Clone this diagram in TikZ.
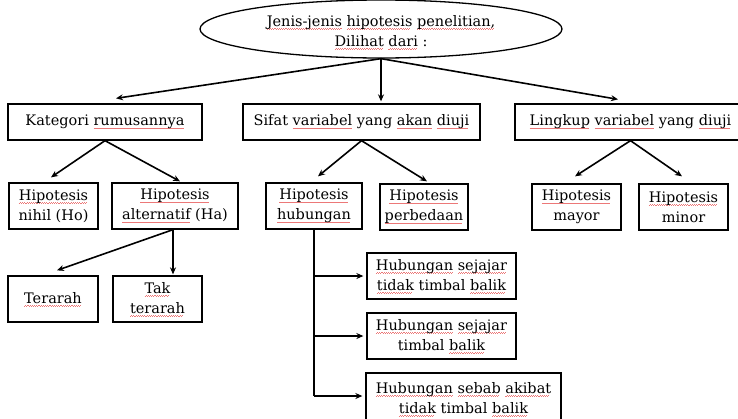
\documentclass[tikz,border=0pt]{standalone}
\usepackage{fontspec}
\setmainfont{DejaVu Serif}
\usetikzlibrary{arrows.meta,calc,shapes.geometric}

\definecolor{squig}{RGB}{236,120,120}
% light red wavy underline, as a spell checker marks a word
\newsavebox\sqbox
\newcommand\sq[1]{\sbox\sqbox{#1}\rlap{\color{squig}\leaders\hbox{\rule[-3.0pt]{1.1pt}{0.5pt}\rule[-2.4pt]{1.1pt}{0.5pt}}\hskip\wd\sqbox}\usebox\sqbox}

\tikzset{
  txt/.style={font=\fontsize{14.5}{20}\selectfont},
  box/.style={txt, draw, line width=1.3pt, inner sep=0pt, minimum height=46pt, align=center},
  topbox/.style={box, minimum height=36pt},
  ln/.style={line width=1.6pt},
  arr/.style={ln, -{Stealth[length=7pt,width=6pt]}},
}

\begin{document}
\begin{tikzpicture}[x=1pt,y=-1pt]
  \fill[white] (0,0) rectangle (738,418);
  \useasboundingbox (0,0) rectangle (738,418);

  % root
  \node[txt, ellipse, draw, line width=1.3pt, minimum width=362pt, minimum height=49pt,
        inner sep=0pt, align=center] (ell) at (381,29)
    {\rule{0pt}{18pt}\sq{Jenis-jenis} \sq{hipotesis} \sq{penelitian,}\\ \sq{Dilihat} \sq{dari} :};

  % first level
  \node[topbox, minimum width=194pt] (kat) at (105,122) {Kategori \sq{rumusannya}};
  \node[topbox, minimum width=237pt] (sif) at (361.5,122) {Sifat \sq{variabel} yang \sq{akan} \sq{diuji}};
  \node[topbox, minimum width=231pt] (lin) at (630.5,122) {\sq{Lingkup} \sq{variabel} yang \sq{diuji}};

  % second level
  \node[box, minimum width=89pt]  (nihil) at (53.5,206) {\sq{Hipotesis}\\ nihil (Ho)};
  \node[box, minimum width=126pt] (alt)   at (175,206)  {\sq{Hipotesis}\\ \sq{alternatif} (Ha)};
  \node[box, minimum width=96pt]  (hub)   at (314,206)  {\sq{Hipotesis}\\ \sq{hubungan}};
  \node[box, minimum width=88pt]  (per)   at (424,207)  {\sq{Hipotesis}\\ \sq{perbedaan}};
  \node[box, minimum width=89pt]  (may)   at (576.5,207) {\sq{Hipotesis}\\ mayor};
  \node[box, minimum width=89pt]  (min)   at (683.5,207) {\sq{Hipotesis}\\ minor};

  % third level
  \node[box, minimum width=90pt]  (ter) at (53,299)    {\sq{Terarah}};
  \node[box, minimum width=89pt]  (tak) at (157.5,299) {\sq{Tak}\\ \sq{terarah}};
  \node[box, minimum width=149pt] (hA)  at (441.5,276) {\sq{Hubungan} \sq{sejajar}\\ \sq{tidak} timbal \sq{balik}};
  \node[box, minimum width=149pt] (hB)  at (441.5,336) {\sq{Hubungan} \sq{sejajar}\\ timbal \sq{balik}};
  \node[box, minimum width=195pt, minimum height=52pt] (hC) at (463.5,399)
    {\sq{Hubungan} \sq{sebab} \sq{akibat}\\ \sq{tidak} timbal \sq{balik}};

  % root to first level
  \draw[arr] (ell.south) -- ($(kat.north)+(11,-5)$);
  \draw[arr] (ell.south) -- ($(ell.south |- sif.north)+(0,-2)$);
  \draw[arr] (ell.south) -- ($(lin.north)+(-12.5,-4)$);

  % first to second level
  \draw[arr] (kat.south) -- ($(nihil.north)+(-2.5,-5)$);
  \draw[arr] (kat.south) -- ($(alt.north)+(5,-1)$);
  \draw[arr] (sif.south) -- ($(hub.north)+(4,-6)$);
  \draw[arr] (sif.south) -- ($(per.north)+(3,-2)$);
  \draw[arr] (lin.south) -- ($(may.north)+(-1.5,-7)$);
  \draw[arr] (lin.south) -- ($(min.north)+(-1.5,-7)$);

  % alternatif branches
  \coordinate (altb) at ($(alt.south)+(-2,0)$);
  \draw[arr] (altb) -- ($(ter.north)+(4,-5)$);
  \draw[arr] (altb) -- ($(altb |- tak.north)+(0,-1)$);

  % hubungan bracket
  \coordinate (hubc) at (hub.south |- 0,396);
  \draw[ln] (hub.south) -- (hubc);
  \draw[arr, shorten >=3pt] (hub.south |- hA.west) -- (hA.west);
  \draw[arr, shorten >=3pt] (hub.south |- hB.west) -- (hB.west);
  \draw[arr, shorten >=3pt] (hubc) -- (hubc -| hC.west);
\end{tikzpicture}
\end{document}
